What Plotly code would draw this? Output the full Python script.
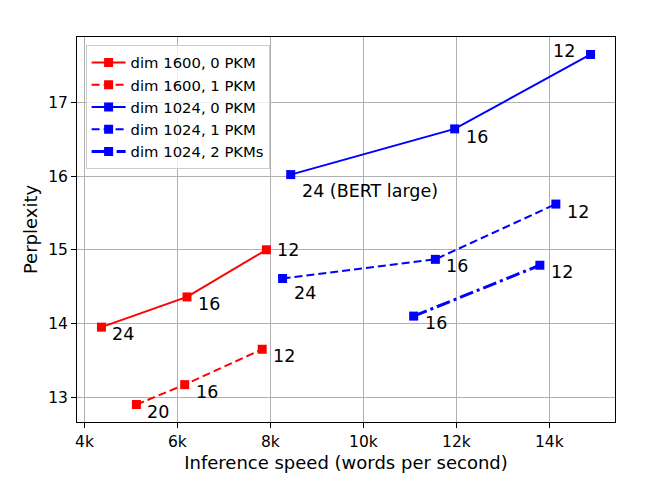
import plotly.graph_objects as go

# words per second / perplexity
red_solid_x = [4366, 6206, 7914]
red_solid_y = [13.95, 14.36, 15.00]
red_solid_lbl = ["24", "16", "12"]

red_dash_x = [5118, 6157, 7824]
red_dash_y = [12.90, 13.17, 13.65]
red_dash_lbl = ["20", "16", "12"]

blue_solid_x = [8437, 11963, 14886]
blue_solid_y = [16.02, 16.64, 17.65]
blue_solid_lbl = ["24 (BERT large)", "16", "12"]

blue_dash_x = [8262, 11548, 14140]
blue_dash_y = [14.61, 14.87, 15.62]
blue_dash_lbl = ["24", "16", "12"]

blue_dd_x = [11082, 13796]
blue_dd_y = [14.10, 14.79]
blue_dd_lbl = ["16", "12"]

x_ticks = [4000, 6000, 8000, 10000, 12000, 14000]
x_tick_text = ["4k", "6k", "8k", "10k", "12k", "14k"]
y_ticks = [13, 14, 15, 16, 17]

FONT = "DejaVu Sans"

series = [
    dict(name="dim 1600, 0 PKM", x=red_solid_x, y=red_solid_y, lbl=red_solid_lbl,
         color="red", dash="solid", width=2,
         offs=[(9, -7), (9, -7), (9, 0)]),
    dict(name="dim 1600, 1 PKM", x=red_dash_x, y=red_dash_y, lbl=red_dash_lbl,
         color="red", dash="8px,4px", width=2,
         offs=[(9, -7), (9, -7), (9, -7)]),
    dict(name="dim 1024, 0 PKM", x=blue_solid_x, y=blue_solid_y, lbl=blue_solid_lbl,
         color="blue", dash="solid", width=2,
         offs=[(9, -16), (9, -8), (-14, 3)]),
    dict(name="dim 1024, 1 PKM", x=blue_dash_x, y=blue_dash_y, lbl=blue_dash_lbl,
         color="blue", dash="8px,4px", width=2,
         offs=[(9, -14), (9, -7), (9, -8)]),
    dict(name="dim 1024, 2 PKMs", x=blue_dd_x, y=blue_dd_y, lbl=blue_dd_lbl,
         color="blue", dash="14px,4px,3px,4px", width=3,
         offs=[(9, -7), (9, -7)]),
]

fig = go.Figure()
for s in series:
    fig.add_trace(go.Scatter(
        x=s["x"], y=s["y"], name=s["name"], mode="lines+markers",
        line=dict(color=s["color"], dash=s["dash"], width=s["width"]),
        marker=dict(symbol="square", size=9, color=s["color"]),
    ))
    for xv, yv, t, (dx, dy) in zip(s["x"], s["y"], s["lbl"], s["offs"]):
        fig.add_annotation(
            x=xv, y=yv, text=t, showarrow=False,
            xanchor="left" if dx > 0 else "right", yanchor="middle",
            xshift=dx, yshift=dy,
            font=dict(family=FONT, size=17.5, color="black"),
        )

# the page body adds an 8px offset, so margins are trimmed to compensate
fig.update_layout(
    width=652, height=498,
    margin=dict(l=69, r=45, t=29, b=84, autoexpand=False),
    plot_bgcolor="white", paper_bgcolor="white",
    font=dict(family=FONT, color="black"),
    showlegend=True,
    legend=dict(
        x=0.016, y=0.978, xanchor="left", yanchor="top",
        bgcolor="rgba(255,255,255,0.8)", bordercolor="#cccccc", borderwidth=1,
        font=dict(family=FONT, size=14.8),
        tracegroupgap=0, itemwidth=34,
    ),
)

fig.update_xaxes(
    range=[3840, 15412],
    tickvals=x_ticks, ticktext=x_tick_text,
    tickfont=dict(size=15.5),
    ticks="outside", ticklen=5, tickcolor="black",
    showline=True, linecolor="black", linewidth=1, mirror=True,
    showgrid=True, gridcolor="#b0b0b0", gridwidth=1,
    zeroline=False,
    title=dict(text="Inference speed (words per second)", font=dict(size=18), standoff=6),
)
fig.update_yaxes(
    range=[12.663, 17.887],
    tickvals=y_ticks,
    tickfont=dict(size=15.5),
    ticks="outside", ticklen=5, tickcolor="black",
    showline=True, linecolor="black", linewidth=1, mirror=True,
    showgrid=True, gridcolor="#b0b0b0", gridwidth=1,
    zeroline=False,
    title=dict(text="Perplexity", font=dict(size=18), standoff=5),
)

fig.write_html("out.html")
